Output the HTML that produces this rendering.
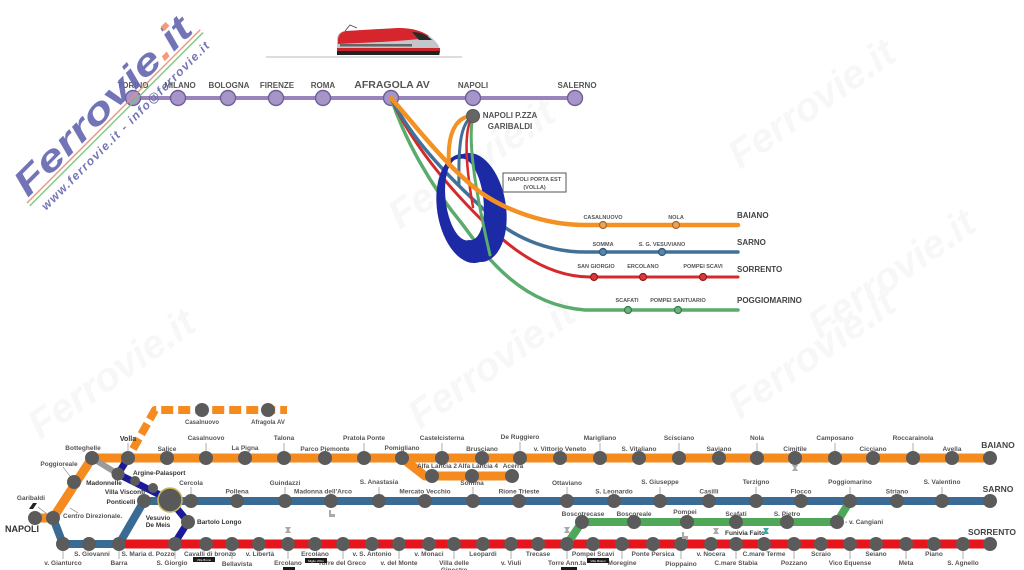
<!DOCTYPE html>
<html><head><meta charset="utf-8"><style>
html,body{margin:0;padding:0;background:#fff;}
body{width:1024px;height:570px;overflow:hidden;}
svg{display:block}
.t{font:bold 8px "Liberation Sans",sans-serif;fill:#555;text-anchor:middle}
.m{font:bold 5.5px "Liberation Sans",sans-serif;fill:#555;text-anchor:middle}
.ml{font:bold 8px "Liberation Sans",sans-serif;fill:#444}
.l{font:bold 6.5px "Liberation Sans",sans-serif;fill:#555;text-anchor:middle}
.d{fill:#333}
.big{font:bold 8.5px "Liberation Sans",sans-serif;fill:#444;text-anchor:middle}
.tk{stroke:#777;stroke-width:0.6}
.st{fill:#5b5b5b}
.wm{font:bold italic 40px "Liberation Sans",sans-serif;fill:#f7f7f7}
</style></head><body>
<svg width="1024" height="570" viewBox="0 0 1024 570" xmlns="http://www.w3.org/2000/svg">
<!-- faint background watermarks -->
<text class="wm" transform="translate(400,230) rotate(-35)">Ferrovie.it</text>
<text class="wm" transform="translate(740,170) rotate(-35)">Ferrovie.it</text>
<text class="wm" transform="translate(40,440) rotate(-35)">Ferrovie.it</text>
<text class="wm" transform="translate(420,430) rotate(-35)">Ferrovie.it</text>
<text class="wm" transform="translate(740,420) rotate(-35)">Ferrovie.it</text>
<text class="wm" transform="translate(820,340) rotate(-35)">Ferrovie.it</text>

<!-- train -->
<line x1="266" y1="57" x2="462" y2="57" stroke="#bbb" stroke-width="1"/>
<g>
<path d="M345,31 L350,25 L357,28" stroke="#444" stroke-width="0.8" fill="none"/>
<path d="M337,40 Q337,32 345,31 L398,28 Q420,28 432,38 Q440,45 440,51 L440,55 L337,55 Z" fill="#c3c6cb"/>
<path d="M338,39 Q339,32 346,31 L398,28 Q418,28 429,36 L420,39 Q400,41 380,42 L338,44 Z" fill="#d7252d"/>
<path d="M412,32 Q424,32 432,40 L419,40 Z" fill="#2a2a2a"/>
<rect x="340" y="44" width="72" height="2.5" fill="#666"/>
<path d="M337,48 L440,48 L440,51 L337,51 Z" fill="#c8242b"/>
<path d="M337,51 L440,51 L439,55 L337,55 Z" fill="#222"/>
</g>

<!-- top high speed line -->
<line x1="133" y1="98" x2="575" y2="98" stroke="#9885bb" stroke-width="4"/>
<g fill="#a595c8" stroke="#6e5e96" stroke-width="1.4">
<circle cx="133" cy="98" r="7.5"/><circle cx="178" cy="98" r="7.5"/><circle cx="228" cy="98" r="7.5"/>
<circle cx="276" cy="98" r="7.5"/><circle cx="323" cy="98" r="7.5"/><circle cx="391" cy="98" r="7.5"/>
<circle cx="473" cy="98" r="7.5"/><circle cx="575" cy="98" r="7.5"/>
</g>
<text class="t" x="133" y="88">TORINO</text>
<text class="t" x="180" y="88">MILANO</text>
<text class="t" x="229" y="88">BOLOGNA</text>
<text class="t" x="277" y="88">FIRENZE</text>
<text class="t" x="323" y="88">ROMA</text>
<text class="t" x="392" y="88" style="font-size:10.5px">AFRAGOLA AV</text>
<text class="t" x="473" y="88">NAPOLI</text>
<text class="t" x="577" y="88">SALERNO</text>

<!-- middle schematic -->
<g fill="none" stroke-linecap="round">
<path d="M391,98 C405,140 430,185 463,225 C485,255 520,305 585,310 L738,310" stroke="#5aab6c" stroke-width="3.5"/>
<path d="M391,98 C410,140 445,185 490,228 C515,252 550,277 590,277 L738,277" stroke="#d42a2c" stroke-width="3"/>
<path d="M391,98 C410,135 440,170 490,215 C510,235 545,252 585,252 L738,252" stroke="#3f7199" stroke-width="3.5"/>
</g>
<path fill-rule="evenodd" fill="#1d2aa5" d="M463,154 A55,31 81 1,0 480,262 A55,31 81 1,0 463,154 Z M460,159 A41,17 83 1,0 469,240 A41,17 83 1,0 460,159 Z"/>
<g fill="none" stroke-linecap="round">
<path d="M473,116 C470,130 468,160 490,255" stroke="#5aab6c" stroke-width="3"/>
<path d="M473,116 C466,125 463,150 473,207" stroke="#d42a2c" stroke-width="2.5"/>
<path d="M473,116 C462,122 458,140 459,185" stroke="#3f7199" stroke-width="3"/>
<path d="M473,116 C455,116 447,135 449,165" stroke="#f39122" stroke-width="4"/>
<path d="M391,98 C415,125 445,165 480,192 C505,210 545,225 585,225 L738,225" stroke="#f39122" stroke-width="4.5"/>
</g>
<circle cx="473" cy="116" r="6.5" fill="#666" stroke="#555"/>
<text class="t" x="510" y="118">NAPOLI P.ZZA</text>
<text class="t" x="510" y="129">GARIBALDI</text>
<rect x="503" y="173" width="63" height="19" fill="#fff" stroke="#555" stroke-width="1"/>
<text class="m" x="534.5" y="181">NAPOLI PORTA EST</text>
<text class="m" x="534.5" y="189">(VOLLA)</text>

<g stroke-width="1.2">
<circle cx="603" cy="225" r="3.5" fill="#eba25c" stroke="#a86820"/>
<circle cx="676" cy="225" r="3.5" fill="#eba25c" stroke="#a86820"/>
<circle cx="603" cy="252" r="3.5" fill="#5b86ab" stroke="#2f5878"/>
<circle cx="662" cy="252" r="3.5" fill="#5b86ab" stroke="#2f5878"/>
<circle cx="594" cy="277" r="3.5" fill="#d8393a" stroke="#9a1a1a"/>
<circle cx="643" cy="277" r="3.5" fill="#d8393a" stroke="#9a1a1a"/>
<circle cx="703" cy="277" r="3.5" fill="#d8393a" stroke="#9a1a1a"/>
<circle cx="628" cy="310" r="3.5" fill="#6cb27a" stroke="#3a7a48"/>
<circle cx="678" cy="310" r="3.5" fill="#6cb27a" stroke="#3a7a48"/>
</g>
<text class="m" x="603" y="219">CASALNUOVO</text>
<text class="m" x="676" y="219">NOLA</text>
<text class="m" x="603" y="246">SOMMA</text>
<text class="m" x="662" y="246">S. G. VESUVIANO</text>
<text class="m" x="596" y="268">SAN GIORGIO</text>
<text class="m" x="643" y="268">ERCOLANO</text>
<text class="m" x="703" y="268">POMPEI SCAVI</text>
<text class="m" x="627" y="302">SCAFATI</text>
<text class="m" x="678" y="302">POMPEI SANTUARIO</text>
<text class="ml" x="737" y="218">BAIANO</text>
<text class="ml" x="737" y="245">SARNO</text>
<text class="ml" x="737" y="272">SORRENTO</text>
<text class="ml" x="737" y="303">POGGIOMARINO</text>

<!-- logo watermark -->
<g transform="translate(27,203) rotate(-45)" opacity="0.9">
<line x1="0" y1="0" x2="245" y2="0" stroke="#e2917c" stroke-width="1.5"/>
<line x1="0" y1="4" x2="245" y2="4" stroke="#7cc47c" stroke-width="1.5"/>
<text x="4" y="-3" textLength="236" lengthAdjust="spacingAndGlyphs" style="font:bold italic 36px 'Liberation Sans',sans-serif;fill:#6466b0">Ferrovie<tspan fill="#f4906a">.</tspan>it</text>
<rect x="219" y="-30" width="7" height="5.5" fill="#f4906a"/>
<text x="8" y="19" textLength="232" lengthAdjust="spacing" style="font:bold italic 12px 'Liberation Sans',sans-serif;fill:#6466b0">www.ferrovie.it - info@ferrovie.it</text>
</g>

<!-- bottom network -->
<g fill="none" stroke-linejoin="round">
<path d="M133,449 L155,410 L287,410" stroke="#f58a1f" stroke-width="8" stroke-dasharray="12 5"/>
<path d="M92,458 L990,458" stroke="#f58a1f" stroke-width="9"/>
<path d="M35,518 L53,518 L92,458" stroke="#f58a1f" stroke-width="9"/>
<path d="M402,458 L425,476 L512,476" stroke="#f58a1f" stroke-width="9"/>
<path d="M53,518 L63,544 L119,544 L144,501 L990,501" stroke="#3a6b94" stroke-width="8"/>
<path d="M119,544 L990,544" stroke="#e8141b" stroke-width="9"/>
<path d="M567,544 L582,522 L837,522 L850,501" stroke="#4fa85a" stroke-width="8"/>
<path d="M92,458 L118,474" stroke="#9a9a9a" stroke-width="6"/>
<path d="M128,458 L118,474 L170,500 L188,522 L174,544" stroke="#1a1a9a" stroke-width="7"/>
</g>
<g class="st">
<circle cx="202" cy="410" r="7"/><circle cx="268" cy="410" r="7"/>
<circle cx="92" cy="458" r="7"/><circle cx="128" cy="458" r="7"/><circle cx="167" cy="458" r="7"/><circle cx="206" cy="458" r="7"/>
<circle cx="245" cy="458" r="7"/><circle cx="284" cy="458" r="7"/><circle cx="325" cy="458" r="7"/><circle cx="364" cy="458" r="7"/>
<circle cx="402" cy="458" r="7"/><circle cx="442" cy="458" r="7"/><circle cx="482" cy="458" r="7"/><circle cx="520" cy="458" r="7"/>
<circle cx="560" cy="458" r="7"/><circle cx="600" cy="458" r="7"/><circle cx="639" cy="458" r="7"/><circle cx="679" cy="458" r="7"/>
<circle cx="719" cy="458" r="7"/><circle cx="757" cy="458" r="7"/><circle cx="795" cy="458" r="7"/><circle cx="835" cy="458" r="7"/>
<circle cx="873" cy="458" r="7"/><circle cx="913" cy="458" r="7"/><circle cx="952" cy="458" r="7"/><circle cx="990" cy="458" r="7"/>
<circle cx="74" cy="482" r="7"/><circle cx="53" cy="518" r="7"/><circle cx="35" cy="518" r="7"/>
<circle cx="432" cy="476" r="7"/><circle cx="472" cy="476" r="7"/><circle cx="512" cy="476" r="7"/>
<circle cx="144" cy="501" r="7"/><circle cx="191" cy="501" r="7"/><circle cx="237" cy="501" r="7"/><circle cx="285" cy="501" r="7"/>
<circle cx="331" cy="501" r="7"/><circle cx="379" cy="501" r="7"/><circle cx="425" cy="501" r="7"/><circle cx="473" cy="501" r="7"/>
<circle cx="519" cy="501" r="7"/><circle cx="567" cy="501" r="7"/><circle cx="614" cy="501" r="7"/><circle cx="660" cy="501" r="7"/>
<circle cx="709" cy="501" r="7"/><circle cx="756" cy="501" r="7"/><circle cx="801" cy="501" r="7"/><circle cx="850" cy="501" r="7"/>
<circle cx="897" cy="501" r="7"/><circle cx="942" cy="501" r="7"/><circle cx="990" cy="501" r="7"/>
<circle cx="63" cy="544" r="7"/><circle cx="89" cy="544" r="7"/><circle cx="119" cy="544" r="7"/>
<circle cx="175" cy="544" r="7"/><circle cx="206" cy="544" r="7"/><circle cx="232" cy="544" r="7"/><circle cx="259" cy="544" r="7"/>
<circle cx="288" cy="544" r="7"/><circle cx="315" cy="544" r="7"/><circle cx="343" cy="544" r="7"/><circle cx="372" cy="544" r="7"/>
<circle cx="399" cy="544" r="7"/><circle cx="429" cy="544" r="7"/><circle cx="454" cy="544" r="7"/><circle cx="483" cy="544" r="7"/>
<circle cx="511" cy="544" r="7"/><circle cx="538" cy="544" r="7"/><circle cx="567" cy="544" r="7"/><circle cx="593" cy="544" r="7"/>
<circle cx="622" cy="544" r="7"/><circle cx="653" cy="544" r="7"/><circle cx="681" cy="544" r="7"/><circle cx="711" cy="544" r="7"/>
<circle cx="736" cy="544" r="7"/><circle cx="764" cy="544" r="7"/><circle cx="794" cy="544" r="7"/><circle cx="821" cy="544" r="7"/>
<circle cx="850" cy="544" r="7"/><circle cx="876" cy="544" r="7"/><circle cx="906" cy="544" r="7"/><circle cx="934" cy="544" r="7"/>
<circle cx="963" cy="544" r="7"/><circle cx="990" cy="544" r="7"/>
<circle cx="582" cy="522" r="7"/><circle cx="634" cy="522" r="7"/><circle cx="687" cy="522" r="7"/><circle cx="736" cy="522" r="7"/>
<circle cx="787" cy="522" r="7"/><circle cx="837" cy="522" r="7"/>
<circle cx="118" cy="474" r="6.5"/><circle cx="135" cy="481" r="5"/><circle cx="153" cy="488" r="5"/><circle cx="188" cy="522" r="7"/>
</g>
<circle cx="170" cy="500" r="12" fill="#595959" stroke="#c9b860" stroke-width="1.5"/>

<!-- ticks -->
<g class="tk">
<line x1="128" y1="443" x2="128" y2="451"/><line x1="206" y1="443" x2="206" y2="451"/><line x1="284" y1="443" x2="284" y2="451"/>
<line x1="364" y1="443" x2="364" y2="451"/><line x1="442" y1="443" x2="442" y2="451"/><line x1="520" y1="442" x2="520" y2="451"/>
<line x1="600" y1="443" x2="600" y2="451"/><line x1="679" y1="443" x2="679" y2="451"/><line x1="757" y1="443" x2="757" y2="451"/>
<line x1="835" y1="443" x2="835" y2="451"/><line x1="913" y1="443" x2="913" y2="451"/>
<line x1="191" y1="487" x2="191" y2="494"/><line x1="285" y1="487" x2="285" y2="494"/><line x1="379" y1="487" x2="379" y2="494"/>
<line x1="473" y1="487" x2="473" y2="494"/><line x1="567" y1="487" x2="567" y2="494"/><line x1="660" y1="487" x2="660" y2="494"/>
<line x1="756" y1="487" x2="756" y2="494"/><line x1="850" y1="487" x2="850" y2="494"/><line x1="942" y1="487" x2="942" y2="494"/>
<line x1="63" y1="551" x2="63" y2="559"/><line x1="119" y1="551" x2="119" y2="559"/><line x1="175" y1="551" x2="175" y2="559"/>
<line x1="232" y1="551" x2="232" y2="559"/><line x1="288" y1="551" x2="288" y2="559"/><line x1="343" y1="551" x2="343" y2="559"/>
<line x1="399" y1="551" x2="399" y2="559"/><line x1="454" y1="551" x2="454" y2="559"/><line x1="511" y1="551" x2="511" y2="559"/>
<line x1="567" y1="551" x2="567" y2="559"/><line x1="622" y1="551" x2="622" y2="559"/><line x1="681" y1="551" x2="681" y2="559"/>
<line x1="736" y1="551" x2="736" y2="559"/><line x1="794" y1="551" x2="794" y2="559"/><line x1="850" y1="551" x2="850" y2="559"/>
<line x1="906" y1="551" x2="906" y2="559"/><line x1="963" y1="551" x2="963" y2="559"/>
<line x1="63" y1="467" x2="70" y2="476"/><line x1="38" y1="507" x2="47" y2="514"/><line x1="70" y1="508" x2="78" y2="513"/>
</g>

<!-- dashed line labels -->
<text class="l" x="202" y="424" style="font-size:6px">Casalnuovo</text>
<text class="l" x="268" y="424" style="font-size:6px">Afragola AV</text>

<!-- orange labels -->
<text class="l" x="83" y="450">Botteghelle</text>
<text class="l d" x="128" y="441" style="font-size:7px">Volla</text>
<text class="l" x="167" y="451">Salice</text>
<text class="l" x="206" y="440">Casalnuovo</text>
<text class="l" x="245" y="450">La Pigna</text>
<text class="l" x="284" y="440">Talona</text>
<text class="l" x="325" y="451">Parco Piemonte</text>
<text class="l" x="364" y="440">Pratola Ponte</text>
<text class="l" x="402" y="450">Pomigliano</text>
<text class="l" x="442" y="440">Castelcisterna</text>
<text class="l" x="482" y="451">Brusciano</text>
<text class="l" x="520" y="439">De Ruggiero</text>
<text class="l" x="560" y="451">v. Vittorio Veneto</text>
<text class="l" x="600" y="440">Marigliano</text>
<text class="l" x="639" y="451">S. Vitaliano</text>
<text class="l" x="679" y="440">Scisciano</text>
<text class="l" x="719" y="451">Saviano</text>
<text class="l" x="757" y="440">Nola</text>
<text class="l" x="795" y="451">Cimitile</text>
<text class="l" x="835" y="440">Camposano</text>
<text class="l" x="873" y="451">Cicciano</text>
<text class="l" x="913" y="440">Roccarainola</text>
<text class="l" x="952" y="451">Avella</text>
<text class="big" x="998" y="448">BAIANO</text>
<text class="l" x="437" y="468">Alfa Lancia 2</text>
<text class="l" x="478" y="468">Alfa Lancia 4</text>
<text class="l" x="513" y="468">Acerra</text>

<!-- left labels -->
<text class="l" x="59" y="466">Poggioreale</text>
<text class="l d" x="104" y="485">Madonnelle</text>
<text class="l d" x="133" y="475" style="text-anchor:start">Argine-Palasport</text>
<text class="l d" x="125" y="494">Villa Visconti</text>
<text class="l d" x="121" y="504">Ponticelli</text>
<text class="l d" x="158" y="520">Vesuvio</text>
<text class="l d" x="158" y="527">De Meis</text>
<text class="l d" x="197" y="524" style="text-anchor:start">Bartolo Longo</text>
<text class="l" x="31" y="500">Garibaldi</text>
<path d="M29,509 L33,503 L37,503 L33,509 Z" fill="#222"/>
<text x="22" y="532" style="font:bold 9px 'Liberation Sans',sans-serif;fill:#333;text-anchor:middle">NAPOLI</text>
<text class="l" x="63" y="518" style="text-anchor:start">Centro Direzionale.</text>

<!-- blue labels -->
<text class="l" x="191" y="485">Cercola</text>
<text class="l" x="237" y="493.5">Pollena</text>
<text class="l" x="285" y="485">Guindazzi</text>
<text class="l" x="323" y="493.5">Madonna dell'Arco</text>
<text class="l" x="379" y="484">S. Anastasia</text>
<text class="l" x="425" y="493.5">Mercato Vecchio</text>
<text class="l" x="472" y="485">Somma</text>
<text class="l" x="519" y="493.5">Rione Trieste</text>
<text class="l" x="567" y="485">Ottaviano</text>
<text class="l" x="614" y="493.5">S. Leonardo</text>
<text class="l" x="660" y="484">S. Giuseppe</text>
<text class="l" x="709" y="493.5">Casilli</text>
<text class="l" x="756" y="484">Terzigno</text>
<text class="l" x="801" y="493.5">Flocco</text>
<text class="l" x="850" y="484">Poggiomarino</text>
<text class="l" x="897" y="493.5">Striano</text>
<text class="l" x="942" y="484">S. Valentino</text>
<text class="big" x="998" y="492">SARNO</text>

<!-- green labels -->
<text class="l" x="583" y="516">Boscotrecase</text>
<text class="l" x="634" y="516">Boscoreale</text>
<text class="l" x="685" y="514">Pompei</text>
<text class="l" x="736" y="516">Scafati</text>
<text class="l" x="787" y="516">S. Pietro</text>
<text class="l" x="845" y="524" style="text-anchor:start">- v. Cangiani</text>

<!-- red labels -->
<text class="l" x="63" y="565">v. Gianturco</text>
<text class="l" x="92" y="556">S. Giovanni</text>
<text class="l" x="119" y="565">Barra</text>
<text class="l" x="148" y="556">S. Maria d. Pozzo</text>
<text class="l" x="172" y="565">S. Giorgio</text>
<text class="l" x="210" y="556">Cavalli di bronzo</text>
<text class="l" x="237" y="566">Bellavista</text>
<text class="l" x="260" y="556">v. Libertà</text>
<text class="l" x="288" y="565">Ercolano</text>
<text class="l" x="315" y="556">Ercolano</text>
<text class="l" x="342" y="565">Torre del Greco</text>
<text class="l" x="372" y="556">v. S. Antonio</text>
<text class="l" x="399" y="565">v. del Monte</text>
<text class="l" x="429" y="556">v. Monaci</text>
<text class="l" x="454" y="565">Villa delle</text>
<text class="l" x="454" y="572">Ginestre</text>
<text class="l" x="483" y="556">Leopardi</text>
<text class="l" x="511" y="565">v. Viuli</text>
<text class="l" x="538" y="556">Trecase</text>
<text class="l" x="567" y="565">Torre Ann.ta</text>
<text class="l" x="593" y="556">Pompei Scavi</text>
<text class="l" x="622" y="565">Moregine</text>
<text class="l" x="653" y="556">Ponte Persica</text>
<text class="l" x="681" y="566">Pioppaino</text>
<text class="l" x="711" y="556">v. Nocera</text>
<text class="l" x="736" y="565">C.mare Stabia</text>
<text class="l" x="764" y="556">C.mare Terme</text>
<text class="l" x="794" y="565">Pozzano</text>
<text class="l" x="821" y="556">Scraio</text>
<text class="l" x="850" y="565">Vico Equense</text>
<text class="l" x="876" y="556">Seiano</text>
<text class="l" x="906" y="565">Meta</text>
<text class="l" x="934" y="556">Piano</text>
<text class="l" x="963" y="565">S. Agnello</text>
<text class="big" x="992" y="535">SORRENTO</text>
<text class="l d" x="725" y="535" style="text-anchor:start">Funivia Faito</text>

<!-- tags -->
<g fill="#1a1a1a">
<rect x="193" y="557" width="22" height="5"/><rect x="283" y="567" width="12" height="4"/>
<rect x="305" y="558" width="22" height="5"/><rect x="561" y="567" width="16" height="4"/>
<rect x="587" y="558" width="22" height="5"/>
</g>
<g style="font:3px 'Liberation Sans',sans-serif;fill:#fff;text-anchor:middle">
<text x="204" y="561">Villa Bruno</text><text x="316" y="562">Miglio d'Oro</text><text x="598" y="562">Villa Misteri</text>
</g>

<!-- small icons -->
<g fill="#aaa">
<path d="M285,527 h6 l-2,3 l2,3 h-6 l2,-3 z"/>
<path d="M564,527 h6 l-2,3 l2,3 h-6 l2,-3 z"/>
<path d="M792,465 h6 l-2,3 l2,3 h-6 l2,-3 z"/>
<path d="M713,528 h6 l-2,3 l2,3 h-6 l2,-3 z"/>
<rect x="329" y="510" width="2" height="7"/><rect x="329" y="514" width="6" height="3"/>
<rect x="682" y="532" width="2" height="7"/><rect x="682" y="536" width="6" height="3"/>
</g>
<path d="M763,528 h6 l-2,3 l2,3 h-6 l2,-3 z" fill="#3aa89a"/>
</svg>
</body></html>
